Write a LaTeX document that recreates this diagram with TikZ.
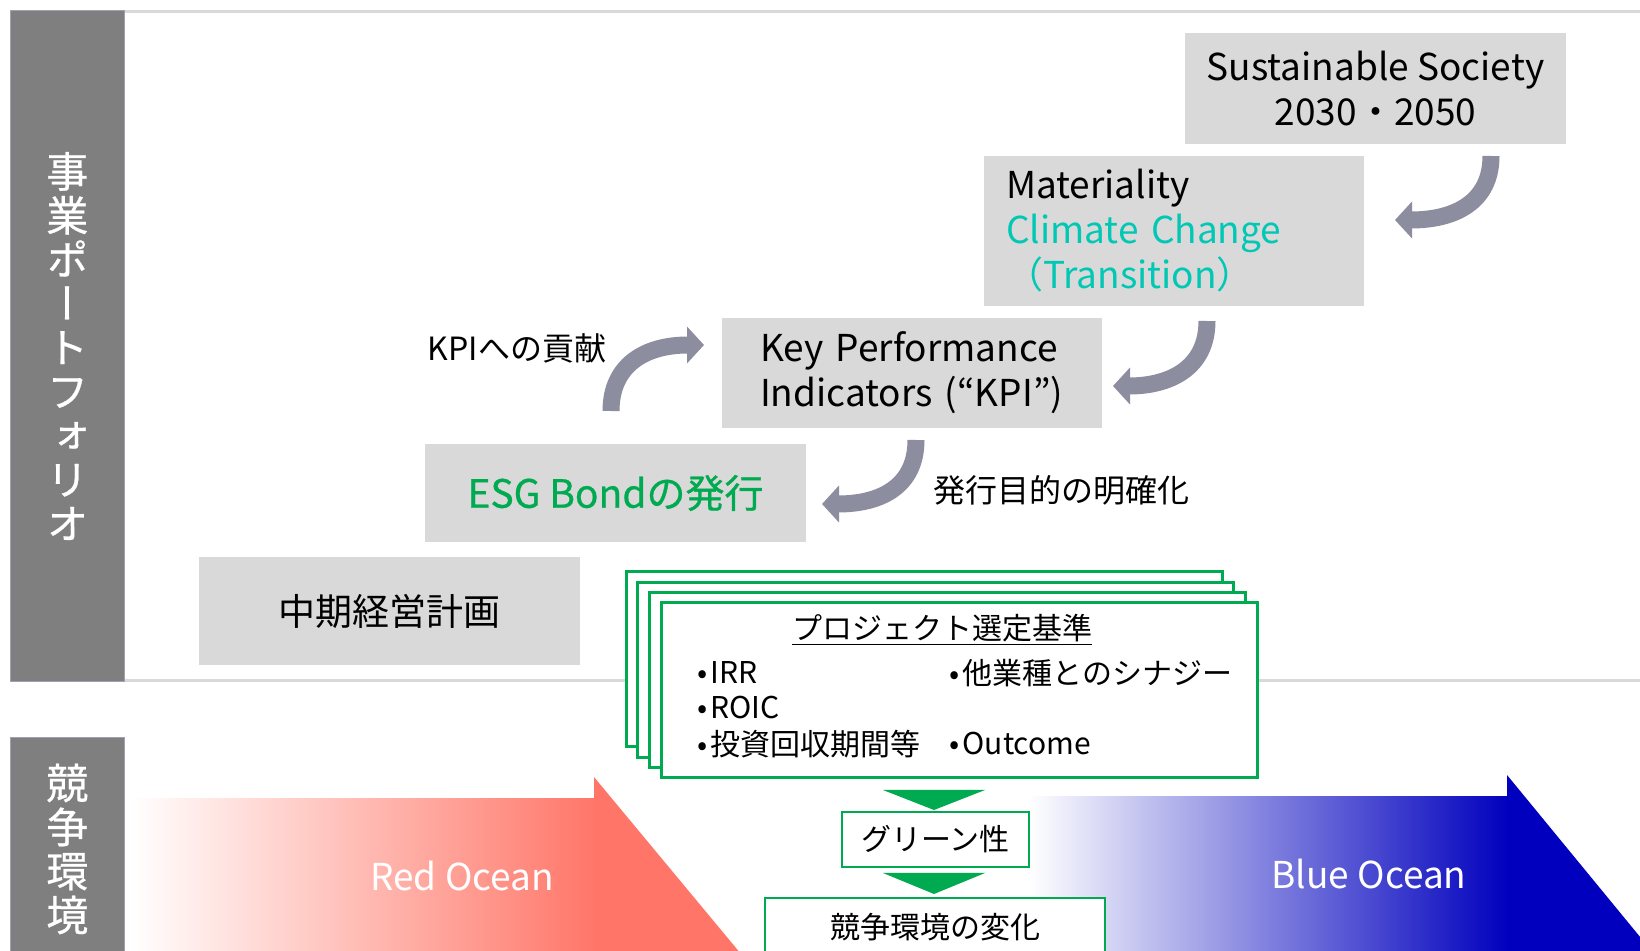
\documentclass[tikz,border=0pt]{standalone}
\usepackage{fontspec}
\setmainfont{Noto Sans CJK JP}
\newfontfamily\vertfont[RawFeature=+vert,FakeBold=0.6]{Noto Sans CJK JP}
\newfontfamily\pwfont[RawFeature=+pwid]{Noto Sans CJK JP}
\newfontfamily\semifont[FakeBold=0.7]{Noto Sans CJK JP}
\usetikzlibrary{arrows.meta}
\definecolor{bandgray}{HTML}{7F7F7F}
\definecolor{bandedge}{HTML}{A0A0B0}
\definecolor{boxgray}{HTML}{D9D9D9}
\definecolor{arrowgray}{HTML}{8D8DA0}
\definecolor{esggreen}{HTML}{00AA50}
\definecolor{climateteal}{HTML}{00C8B4}
\definecolor{redocean}{HTML}{FF7668}
\definecolor{blueocean}{HTML}{0000BE}
\newcommand{\bul}{{\pwfont •}\hspace{1.5pt}}

\begin{document}
\begin{tikzpicture}[x=0.5pt,y=-0.5pt,
    band/.style={fill=bandgray,draw=bandedge,line width=0.5pt,inner sep=0pt,minimum width=56.65pt,
      text=white,align=center,font=\vertfont\fontsize{21}{22}\selectfont},
    graybox/.style={fill=boxgray,inner sep=0pt,minimum width=190pt,font=\fontsize{18.5}{22.5}\selectfont},
    curvearrow/.style={draw=arrowgray,line width=8.5pt,-{Triangle[length=8.5pt,width=18pt]}},
    card/.style={draw=esggreen,fill=white,line width=1.5pt,minimum width=298pt,minimum height=87.5pt,inner sep=0pt},
    greenbox/.style={draw=esggreen,fill=white,line width=1.25pt,inner sep=0pt,font=\fontsize{15}{18}\selectfont},
    cardtext/.style={inner sep=0pt,font=\fontsize{15}{18}\selectfont},
    labeltext/.style={inner sep=0pt,font=\fontsize{16}{19}\selectfont},
    oceantext/.style={text=white,inner sep=0pt,font=\fontsize{18.5}{22.5}\selectfont}]
  \useasboundingbox (0,0) rectangle (1640,951);
  \fill[white] (0,0) rectangle (1640,951);

  % section rules
  \draw[boxgray,line width=1.5pt] (124,11.5) -- (1640,11.5);
  \draw[boxgray,line width=1.5pt] (124,681) -- (1640,681);

  % side bands
  \node[band,minimum height=335.3pt] (portfolio) at (67.35,346) {事\\業\\ポ\\ー\\ト\\フ\\ォ\\リ\\オ};
  \node[band,minimum height=111pt] (compete) at (67.35,849) {競\\争\\環\\境};

  % oceans
  \shade[left color=white,right color=redocean] (130,799) rectangle (596,960);
  \fill[redocean] (594,777) -- (746,960) -- (594,960) -- cycle;
  \shade[left color=white,right color=blueocean] (1029,797) rectangle (1509,960);
  \fill[blueocean] (1507,775) -- (1659,960) -- (1507,960) -- cycle;
  \node[oceantext] (red) at (462,876) {Red Ocean};
  \node[oceantext] (blue) at (1369,874) {Blue Ocean};

  % steps
  \node[graybox,minimum width=190.5pt,minimum height=55.25pt,align=center] (society) at (1375.5,88.75)
    {Sustainable Society\\2030・2050};
  \node[graybox,minimum height=75pt,text width=168pt,inner xsep=11pt,align=left] (materiality) at (1174,231)
    {Materiality\\\textcolor{climateteal}{Climate Change}\\\textcolor{climateteal}{（Transition）}};
  \node[graybox,minimum height=55pt,text width=152pt,inner xsep=19pt,align=left] (kpi) at (912,373)
    {Key Performance\\Indicators ({\pwfont “}KPI{\pwfont ”})};
  \node[graybox,minimum width=190.5pt,minimum height=49pt,text=esggreen,font=\semifont\fontsize{19.5}{23}\selectfont]
    (esg) at (615.5,493) {ESG Bondの発行};
  \node[graybox,minimum width=190.5pt,minimum height=54pt] (plan) at (389.5,611) {中期経営計画};

  % curved arrows
  \coordinate (a1s) at (1491,156);
  \coordinate (a1e) at (1395,220);
  \coordinate (a2s) at (1207,321);
  \coordinate (a2e) at (1113,386);
  \coordinate (a3s) at (916,440);
  \coordinate (a3e) at (822,504);
  \coordinate (a4s) at (611,411);
  \coordinate (a4e) at (704,345);
  \draw[curvearrow] (a1s) .. controls (1491,202) and (1455,220) .. (a1e);
  \draw[curvearrow] (a2s) .. controls (1207,368) and (1170,386) .. (a2e);
  \draw[curvearrow] (a3s) .. controls (916,487) and (880,504) .. (a3e);
  \draw[curvearrow] (a4s) .. controls (611,365) and (645,345) .. (a4e);
  \node[labeltext] (contrib) at (517,348) {KPIへの貢献};
  \node[labeltext] (purpose) at (1061,490) {発行目的の明確化};

  % project criteria
  \foreach \k in {0,...,3}
    \node[card] (card\k) at ({924+11.7*\k},{659.5+10.3*\k}) {};
  \node[cardtext] (criteria) at (942,630) {\underline{プロジェクト選定基準}};
  \node[cardtext,anchor=west] (irr) at (697,673) {\bul IRR};
  \node[cardtext,anchor=west] (roic) at (697,708) {\bul ROIC};
  \node[cardtext,anchor=west] (payback) at (697,744) {\bul 投資回収期間等};
  \node[cardtext,anchor=west] (synergy) at (949,673) {\bul 他業種とのシナジー};
  \node[cardtext,anchor=west] (outcome) at (949,744) {\bul Outcome};

  % green flow
  \fill[esggreen] (883,790) -- (985,790) -- (934,810) -- cycle;
  \node[greenbox,minimum width=93.5pt,minimum height=27.5pt] (green) at (935.5,839.5) {グリーン性};
  \fill[esggreen] (883,873) -- (985,873) -- (934,894) -- cycle;
  \node[greenbox,minimum width=170pt,minimum height=29pt] (change) at (935,927) {競争環境の変化};
\end{tikzpicture}
\end{document}
